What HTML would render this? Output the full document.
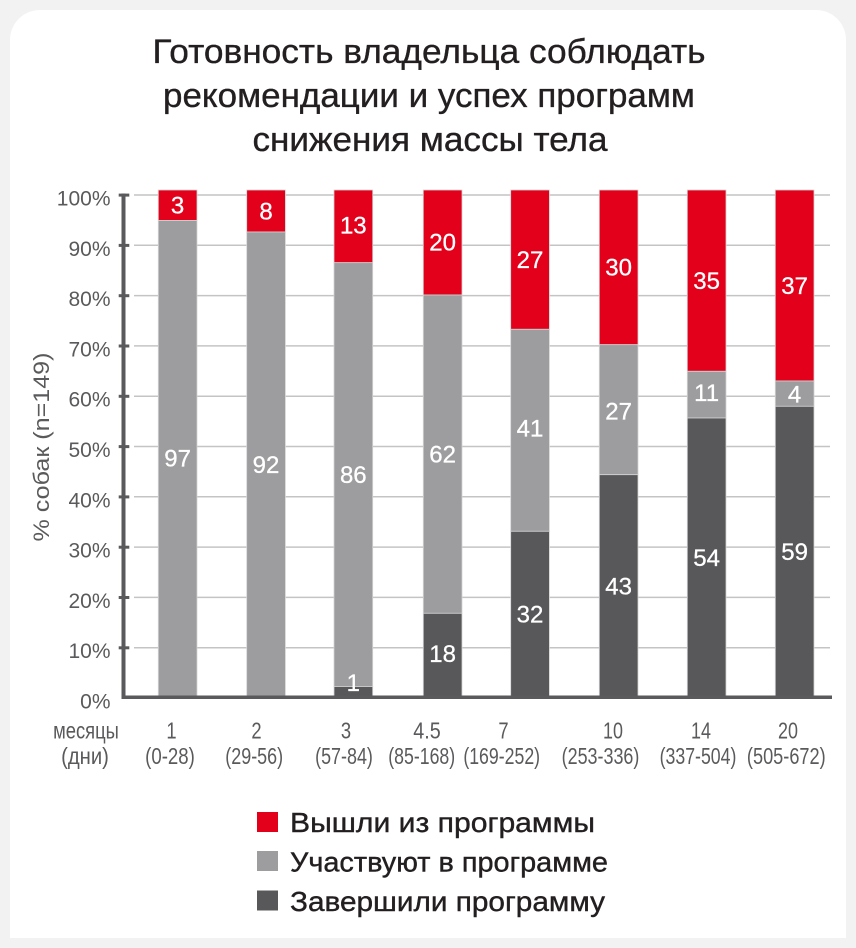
<!DOCTYPE html>
<html>
<head>
<meta charset="utf-8">
<style>
  html, body { margin: 0; padding: 0; background: #f2f2f2; }
  svg { display: block; }
  text { font-family: "Liberation Sans", "Noto Sans CJK SC", sans-serif; }
</style>
</head>
<body>
<svg width="856" height="948" viewBox="0 0 856 948" xmlns="http://www.w3.org/2000/svg">
  <rect x="0" y="0" width="856" height="948" fill="#f2f2f2"/>
  <path d="M10,938 L10,40 A30,30 0 0 1 40,10 L816,10 A30,30 0 0 1 846,40 L846,938 Z" fill="#ffffff"/>

  <!-- Title -->
  <g fill="#231f20" font-size="34" text-anchor="middle" stroke="#231f20" stroke-width="0.35">
    <text x="429" y="63" textLength="553" lengthAdjust="spacingAndGlyphs">Готовность владельца соблюдать</text>
    <text x="429" y="107" textLength="532" lengthAdjust="spacingAndGlyphs">рекомендации и успех программ</text>
    <text x="430" y="151" textLength="355" lengthAdjust="spacingAndGlyphs">снижения массы тела</text>
  </g>

  <!-- Gridlines -->
  <g stroke="#c4c4c4" stroke-width="1.5">
    <line x1="134" y1="195" x2="830" y2="195"/>
    <line x1="134" y1="245.3" x2="830" y2="245.3"/>
    <line x1="134" y1="295.6" x2="830" y2="295.6"/>
    <line x1="134" y1="345.9" x2="830" y2="345.9"/>
    <line x1="134" y1="396.2" x2="830" y2="396.2"/>
    <line x1="134" y1="446.5" x2="830" y2="446.5"/>
    <line x1="134" y1="496.8" x2="830" y2="496.8"/>
    <line x1="134" y1="547.1" x2="830" y2="547.1"/>
    <line x1="134" y1="597.4" x2="830" y2="597.4"/>
    <line x1="134" y1="647.7" x2="830" y2="647.7"/>
  </g>

  <!-- Bars -->
  <g stroke="#d4d4d4" stroke-width="0.8">
    <rect x="158.3" y="190" width="38.7" height="30.5" fill="#e2001a"/>
    <rect x="158.3" y="220.5" width="38.7" height="476.5" fill="#9d9d9f"/>

    <rect x="246.7" y="190" width="38.7" height="42" fill="#e2001a"/>
    <rect x="246.7" y="232" width="38.7" height="465" fill="#9d9d9f"/>

    <rect x="334" y="190" width="38.7" height="72.7" fill="#e2001a"/>
    <rect x="334" y="262.7" width="38.7" height="423.8" fill="#9d9d9f"/>
    <rect x="334" y="686.5" width="38.7" height="10.5" fill="#58585a"/>

    <rect x="423.3" y="190" width="38.7" height="105" fill="#e2001a"/>
    <rect x="423.3" y="295" width="38.7" height="318.3" fill="#9d9d9f"/>
    <rect x="423.3" y="613.3" width="38.7" height="83.7" fill="#58585a"/>

    <rect x="510.7" y="190" width="38.7" height="139.3" fill="#e2001a"/>
    <rect x="510.7" y="329.3" width="38.7" height="202" fill="#9d9d9f"/>
    <rect x="510.7" y="531.3" width="38.7" height="165.7" fill="#58585a"/>

    <rect x="599.3" y="190" width="38.7" height="154.7" fill="#e2001a"/>
    <rect x="599.3" y="344.7" width="38.7" height="130" fill="#9d9d9f"/>
    <rect x="599.3" y="474.7" width="38.7" height="222.3" fill="#58585a"/>

    <rect x="687.3" y="190" width="38.7" height="181.3" fill="#e2001a"/>
    <rect x="687.3" y="371.3" width="38.7" height="46.7" fill="#9d9d9f"/>
    <rect x="687.3" y="418" width="38.7" height="279" fill="#58585a"/>

    <rect x="775.3" y="190" width="38.7" height="191" fill="#e2001a"/>
    <rect x="775.3" y="381" width="38.7" height="25.3" fill="#9d9d9f"/>
    <rect x="775.3" y="406.3" width="38.7" height="290.7" fill="#58585a"/>
  </g>

  <!-- Axes -->
  <g fill="#5a5a5c">
    <rect x="121.5" y="193.5" width="4" height="505"/>
    <rect x="121.5" y="695.5" width="710.5" height="3.5"/>
    <rect x="118.7" y="193.6" width="10.6" height="3"/>
    <rect x="118.7" y="243.9" width="10.6" height="3"/>
    <rect x="118.7" y="294.2" width="10.6" height="3"/>
    <rect x="118.7" y="344.5" width="10.6" height="3"/>
    <rect x="118.7" y="394.8" width="10.6" height="3"/>
    <rect x="118.7" y="445.1" width="10.6" height="3"/>
    <rect x="118.7" y="495.4" width="10.6" height="3"/>
    <rect x="118.7" y="545.7" width="10.6" height="3"/>
    <rect x="118.7" y="596.0" width="10.6" height="3"/>
    <rect x="118.7" y="646.3" width="10.6" height="3"/>
  </g>

  <!-- Y tick labels -->
  <g fill="#5a5a5c" font-size="21" text-anchor="end">
    <text x="110.5" y="205.5">100%</text>
    <text x="110.5" y="255.8">90%</text>
    <text x="110.5" y="306.1">80%</text>
    <text x="110.5" y="356.4">70%</text>
    <text x="110.5" y="406.7">60%</text>
    <text x="110.5" y="457">50%</text>
    <text x="110.5" y="507.3">40%</text>
    <text x="110.5" y="557.6">30%</text>
    <text x="110.5" y="607.9">20%</text>
    <text x="110.5" y="658.2">10%</text>
    <text x="110.5" y="708.5">0%</text>
  </g>

  <!-- Y axis title -->
  <text transform="translate(49,447) rotate(-90)" fill="#5a5a5c" font-size="22" text-anchor="middle" textLength="189" lengthAdjust="spacingAndGlyphs">% собак (n=149)</text>

  <!-- Bar value labels -->
  <g fill="#ffffff" font-size="24" text-anchor="middle" stroke="#ffffff" stroke-width="0.3">
    <text x="177.6" y="213.6">3</text>
    <text x="266" y="219.6">8</text>
    <text x="353.3" y="233.6">13</text>
    <text x="442.6" y="250.4">20</text>
    <text x="530" y="267.9">27</text>
    <text x="618.6" y="275.4">30</text>
    <text x="706.6" y="288.9">35</text>
    <text x="794.6" y="293.9">37</text>

    <text x="177.6" y="466.4">97</text>
    <text x="266" y="472.9">92</text>
    <text x="353.3" y="482.9">86</text>
    <text x="442.6" y="462.4">62</text>
    <text x="530" y="436.4">41</text>
    <text x="618.6" y="419.4">27</text>
    <text x="706.6" y="400.9">11</text>
    <text x="794.6" y="402.4">4</text>

    <text x="353.3" y="690.9">1</text>
    <text x="442.6" y="661.9">18</text>
    <text x="530" y="622.4">32</text>
    <text x="618.6" y="594.4">43</text>
    <text x="706.6" y="565.9">54</text>
    <text x="794.6" y="559.9">59</text>
  </g>

  <!-- X labels -->
  <g fill="#5a5a5c" font-size="23" text-anchor="middle">
    <text transform="translate(86,738.5) scale(0.8,1)">месяцы</text>
    <text transform="translate(85,764) scale(0.88,1)">(дни)</text>

    <text transform="translate(171.5,738.5) scale(0.8,1)">1</text>
    <text transform="translate(256.5,738.5) scale(0.8,1)">2</text>
    <text transform="translate(346,738.5) scale(0.8,1)">3</text>
    <text transform="translate(427,738.5) scale(0.86,1)">4.5</text>
    <text transform="translate(503.5,738.5) scale(0.8,1)">7</text>
    <text transform="translate(613,738.5) scale(0.78,1)">10</text>
    <text transform="translate(701,738.5) scale(0.78,1)">14</text>
    <text transform="translate(788,738.5) scale(0.78,1)">20</text>

    <text transform="translate(170,764) scale(0.81,1)">(0-28)</text>
    <text transform="translate(254.2,764) scale(0.78,1)">(29-56)</text>
    <text transform="translate(344,764) scale(0.78,1)">(57-84)</text>
    <text transform="translate(421.7,764) scale(0.77,1)">(85-168)</text>
    <text transform="translate(501.7,764) scale(0.77,1)">(169-252)</text>
    <text transform="translate(600.5,764) scale(0.78,1)">(253-336)</text>
    <text transform="translate(698,764) scale(0.77,1)">(337-504)</text>
    <text transform="translate(786.3,764) scale(0.79,1)">(505-672)</text>
  </g>

  <!-- Legend -->
  <rect x="257" y="812" width="21" height="20" fill="#e2001a"/>
  <rect x="257" y="851" width="21" height="20" fill="#9d9d9f"/>
  <rect x="257" y="890.5" width="21" height="20" fill="#58585a"/>
  <g fill="#231f20" font-size="28" stroke="#231f20" stroke-width="0.4">
    <text x="290" y="832" textLength="305" lengthAdjust="spacingAndGlyphs">Вышли из программы</text>
    <text x="290" y="871.5" textLength="318" lengthAdjust="spacingAndGlyphs">Участвуют в программе</text>
    <text x="290" y="911" textLength="315" lengthAdjust="spacingAndGlyphs">Завершили программу</text>
  </g>
</svg>
</body>
</html>
